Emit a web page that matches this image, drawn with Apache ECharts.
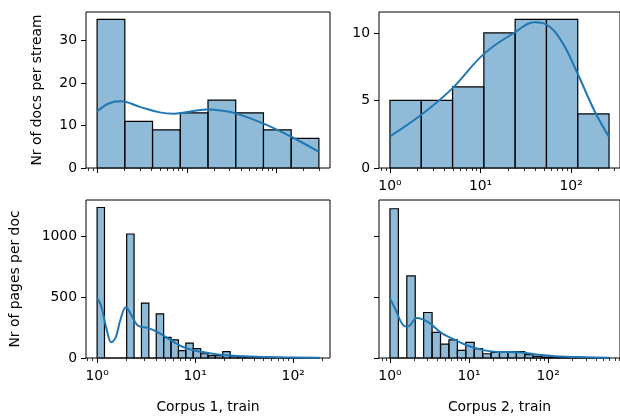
<!DOCTYPE html>
<html>
<head>
<meta charset="utf-8">
<script src="https://cdn.jsdelivr.net/npm/echarts@6/dist/echarts.min.js"></script>
<style>
  html, body { margin: 0; padding: 0; background: #fff; }
  #chart { width: 620px; height: 416px; }
</style>
</head>
<body>
<div id="chart"></div>
<script>
// histogram counts, log-spaced bins from 1 up to the *Max value
var docs1Counts = [35, 11, 9, 13, 16, 13, 9, 7];
var docs2Counts = [5, 5, 6, 10, 11, 11, 4];
var pages1Counts = [1240, 0, 0, 0, 1022, 0, 452, 0, 364, 170, 150, 60, 123, 78, 35,
  20, 20, 52, 18, 12, 10, 8, 5, 5, 3, 3, 2, 1, 1, 1];
var pages2Counts = [1230, 0, 677, 0, 375, 211, 115, 150, 63, 128, 78, 35, 46, 46, 52,
  52, 27, 13, 8, 6, 4, 3, 2, 2, 1, 1];
var docs1Max = 297;
var docs2Max = 262;
var pages1Max = 183;
var pages2Max = 589;

// kde curves [x, y]
var docs1Kde = [[1, 13.3], [1.35, 15.2], [1.82, 15.7], [3, 14.4], [5, 13.1], [7.2, 12.8],
  [11, 13.3], [17, 13.8], [25, 13.5], [36, 12.8], [73, 10.4], [148, 7.3], [297, 3.8]];
var docs2Kde = [[1, 2.34], [2.18, 3.9], [4.82, 5.86], [10.9, 8.45], [24, 10.05], [39.8, 10.8],
  [52.4, 10.66], [77.6, 9.43], [116, 7.09], [180, 4.26], [262, 2.29]];
var pages1Kde = [[1, 493], [1.1, 430], [1.24, 250], [1.4, 130], [1.55, 170], [1.73, 315],
  [1.97, 418], [2.2, 365], [2.6, 268], [3.3, 248], [4.3, 206], [5.9, 137], [8, 82],
  [11, 54], [18, 27], [36, 13], [80, 6], [183, 3]];
var pages2Kde = [[1, 493], [1.18, 397], [1.5, 266], [1.69, 260], [2.19, 329], [3.07, 293],
  [4.51, 205], [6.62, 150], [9.7, 101], [15.7, 63], [23, 50], [40, 48], [55, 40],
  [75, 27], [120, 15], [300, 6], [589, 3]];

var xTickLabels = { 0: '10\u2070', 1: '10\u00b9', 2: '10\u00b2' };
var docs1YTicks = [0, 10, 20, 30];
var docs2YTicks = [0, 5, 10];
var pagesYTicks = [0, 500, 1000];
var yLabelDocs = 'Nr of docs per stream';
var yLabelPages = 'Nr of pages per doc';
var xLabel1 = 'Corpus 1, train';
var xLabel2 = 'Corpus 2, train';

var font = 'DejaVu Sans';
var fontSize = 13.9;

var myChart = echarts.init(document.getElementById('chart'), null, { renderer: 'canvas' });

let log10 = (v) => Math.log(v) / Math.LN10;

let minorTicks = (lo, hi) => {
  let out = [];
  for (let d = -1; d <= 3; d++) {
    for (let m = 2; m <= 9; m++) {
      let v = d + log10(m);
      if (v >= lo && v <= hi) out.push(v);
    }
  }
  return out;
};
let majorTicks = (lo, hi) => [0, 1, 2, 3].filter((v) => v >= lo && v <= hi);

let panels = [
  { counts: docs1Counts, max: docs1Max, kde: docs1Kde, yTicks: docs1YTicks, ymax: 35 * 1.05,
    grid: { left: 86, top: 12, width: 244, height: 156 }, xLabels: false, yLabels: true,
    yName: yLabelDocs, yGap: 42, xName: '' },
  { counts: docs2Counts, max: docs2Max, kde: docs2Kde, yTicks: docs2YTicks, ymax: 11 * 1.05,
    grid: { left: 379, top: 12, width: 244, height: 156 }, xLabels: true, yLabels: true,
    yName: '', yGap: 0, xName: '' },
  { counts: pages1Counts, max: pages1Max, kde: pages1Kde, yTicks: pagesYTicks, ymax: 1240 * 1.05,
    grid: { left: 86, top: 200, width: 244, height: 158 }, xLabels: true, yLabels: true,
    yName: yLabelPages, yGap: 64, xName: xLabel1 },
  { counts: pages2Counts, max: pages2Max, kde: pages2Kde, yTicks: pagesYTicks, ymax: 1240 * 1.05,
    grid: { left: 379, top: 200, width: 244, height: 158 }, xLabels: true, yLabels: false,
    yName: '', yGap: 0, xName: xLabel2 }
];

let grids = [], xAxes = [], yAxes = [], series = [];

panels.forEach((p, i) => {
  let span = log10(p.max);
  let lo = -0.05 * span, hi = 1.05 * span;
  let w = span / p.counts.length;

  grids.push(Object.assign({ show: true, borderColor: '#000', borderWidth: 1,
    backgroundColor: 'transparent' }, p.grid));

  // major ticks + labels
  xAxes.push({
    gridIndex: i, type: 'value', position: 'bottom', min: lo, max: hi,
    name: p.xName, nameLocation: 'middle', nameGap: 42,
    nameTextStyle: { fontFamily: font, fontSize: fontSize, color: '#000' },
    axisLine: { show: false, onZero: false },
    axisTick: { show: true, customValues: majorTicks(lo, hi), length: 5,
      lineStyle: { color: '#000', width: 1 } },
    axisLabel: { show: p.xLabels, customValues: majorTicks(lo, hi), margin: 11,
      fontFamily: font, fontSize: fontSize, color: '#000',
      formatter: (v) => xTickLabels[Math.round(v)] },
    splitLine: { show: false }
  });
  // minor ticks
  xAxes.push({
    gridIndex: i, type: 'value', position: 'bottom', min: lo, max: hi,
    axisLine: { show: false, onZero: false },
    axisTick: { show: true, customValues: minorTicks(lo, hi), length: 3,
      lineStyle: { color: '#000', width: 0.8 } },
    axisLabel: { show: false },
    splitLine: { show: false }
  });

  yAxes.push({
    gridIndex: i, type: 'value', position: 'left', min: 0, max: p.ymax,
    name: p.yName, nameLocation: 'middle', nameGap: p.yGap,
    nameTextStyle: { fontFamily: font, fontSize: fontSize, color: '#000' },
    axisLine: { show: false, onZero: false },
    axisTick: { show: true, customValues: p.yTicks, length: 5,
      lineStyle: { color: '#000', width: 1 } },
    axisLabel: { show: p.yLabels, customValues: p.yTicks, margin: 9,
      fontFamily: font, fontSize: fontSize, color: '#000', formatter: (v) => String(v) },
    splitLine: { show: false }
  });

  let binData = p.counts.map((c, k) => [k * w, (k + 1) * w, c]);

  series.push({
    type: 'custom',
    xAxisIndex: i * 2, yAxisIndex: i,
    data: binData,
    encode: { x: [0, 1], y: 2 },
    renderItem: (params, api) => {
      let a = api.coord([api.value(0), 0]);
      let b = api.coord([api.value(1), api.value(2)]);
      return {
        type: 'rect',
        shape: { x: a[0], y: b[1], width: b[0] - a[0], height: a[1] - b[1] },
        style: { fill: 'rgba(31,119,180,0.5)', stroke: '#000', lineWidth: 1.2 }
      };
    },
    silent: true
  });

  series.push({
    type: 'line',
    xAxisIndex: i * 2, yAxisIndex: i,
    data: p.kde.map((d) => [log10(d[0]), d[1]]),
    smooth: 0.4,
    showSymbol: false,
    lineStyle: { color: '#1f77b4', width: 2 },
    silent: true,
    z: 5
  });
});

myChart.setOption({
  animation: false,
  backgroundColor: '#fff',
  grid: grids,
  xAxis: xAxes,
  yAxis: yAxes,
  series: series
});
</script>
</body>
</html>
